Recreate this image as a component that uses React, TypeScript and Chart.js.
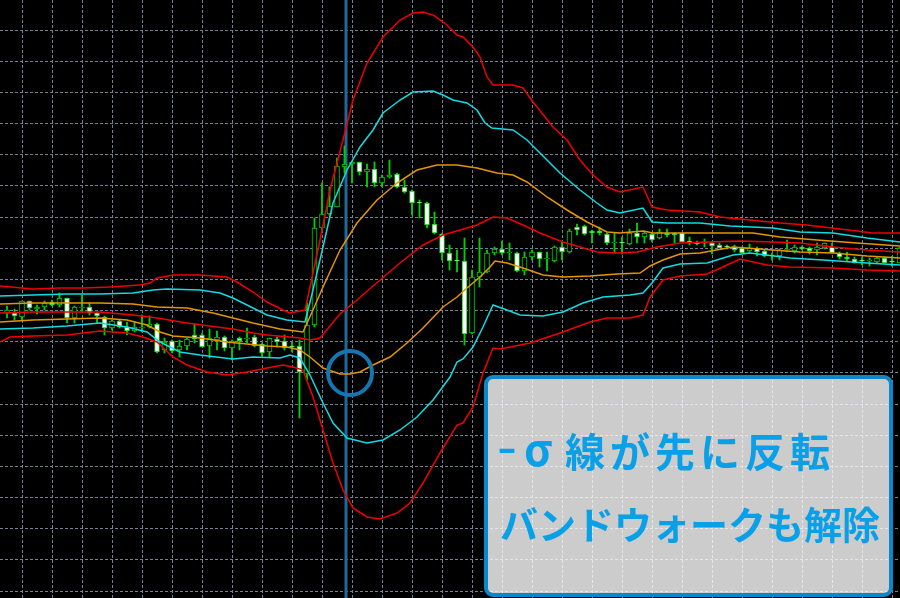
import React, { useEffect, useRef } from "react";
import { Chart, registerables } from "chart.js";

Chart.register(...registerables);

// M15 candles, time axis in minutes from the first bar
const BAR_MINUTES = 15;

const opens = [
  110.285, 110.285, 110.281, 110.297, 110.289, 110.291, 110.296, 110.293, 110.300, 110.280,
  110.290, 110.291, 110.285, 110.281, 110.270, 110.277, 110.271, 110.267, 110.270, 110.271,
  110.274, 110.248, 110.257, 110.248, 110.252, 110.263, 110.263, 110.252, 110.258, 110.261,
  110.250, 110.260, 110.259, 110.261, 110.254, 110.246, 110.259, 110.257, 110.252, 110.252,
  110.224, 110.273, 110.370, 110.384, 110.391, 110.431, 110.434, 110.436, 110.426, 110.429,
  110.415, 110.421, 110.424, 110.411, 110.407, 110.396, 110.395, 110.374, 110.364, 110.345,
  110.338, 110.337, 110.265, 110.321, 110.326, 110.345, 110.349, 110.345, 110.345, 110.327,
  110.341, 110.346, 110.339, 110.337, 110.351, 110.346, 110.371, 110.372, 110.367, 110.367,
  110.364, 110.355, 110.356, 110.354, 110.365, 110.361, 110.364, 110.360, 110.365, 110.365,
  110.365, 110.357, 110.356, 110.356, 110.355, 110.353, 110.352, 110.351, 110.350, 110.347,
  110.350, 110.347, 110.343, 110.342, 110.348, 110.347, 110.351, 110.350, 110.348, 110.350,
  110.351, 110.345, 110.341, 110.339, 110.338, 110.337, 110.336, 110.340, 110.337, 110.335,
];
const highs = [
  110.292, 110.289, 110.297, 110.297, 110.293, 110.297, 110.298, 110.305, 110.300, 110.292,
  110.303, 110.295, 110.286, 110.282, 110.278, 110.278, 110.276, 110.276, 110.283, 110.282,
  110.275, 110.260, 110.258, 110.258, 110.260, 110.274, 110.265, 110.269, 110.267, 110.262,
  110.258, 110.261, 110.270, 110.263, 110.255, 110.260, 110.261, 110.263, 110.256, 110.258,
  110.295, 110.380, 110.415, 110.411, 110.440, 110.452, 110.436, 110.436, 110.434, 110.436,
  110.423, 110.438, 110.425, 110.418, 110.408, 110.398, 110.396, 110.386, 110.365, 110.353,
  110.348, 110.360, 110.328, 110.360, 110.348, 110.351, 110.357, 110.355, 110.346, 110.346,
  110.348, 110.346, 110.346, 110.352, 110.356, 110.369, 110.374, 110.373, 110.368, 110.371,
  110.365, 110.365, 110.361, 110.369, 110.375, 110.367, 110.365, 110.369, 110.369, 110.365,
  110.365, 110.361, 110.357, 110.359, 110.356, 110.355, 110.353, 110.353, 110.351, 110.354,
  110.351, 110.348, 110.345, 110.349, 110.358, 110.353, 110.352, 110.351, 110.355, 110.355,
  110.355, 110.346, 110.346, 110.341, 110.341, 110.340, 110.341, 110.341, 110.342, 110.351,
];
const lows = [
  110.280, 110.278, 110.278, 110.288, 110.284, 110.288, 110.292, 110.291, 110.275, 110.275,
  110.286, 110.283, 110.275, 110.263, 110.268, 110.270, 110.263, 110.266, 110.266, 110.270,
  110.245, 110.245, 110.245, 110.241, 110.248, 110.255, 110.251, 110.240, 110.248, 110.247,
  110.238, 110.248, 110.255, 110.251, 110.242, 110.241, 110.251, 110.248, 110.246, 110.180,
  110.218, 110.271, 110.368, 110.383, 110.391, 110.425, 110.415, 110.423, 110.411, 110.411,
  110.411, 110.420, 110.410, 110.405, 110.383, 110.380, 110.370, 110.364, 110.338, 110.328,
  110.326, 110.253, 110.264, 110.311, 110.325, 110.343, 110.343, 110.338, 110.326, 110.323,
  110.338, 110.331, 110.327, 110.336, 110.338, 110.345, 110.363, 110.363, 110.355, 110.363,
  110.353, 110.345, 110.344, 110.353, 110.355, 110.355, 110.356, 110.359, 110.361, 110.355,
  110.356, 110.353, 110.353, 110.351, 110.344, 110.350, 110.349, 110.346, 110.345, 110.346,
  110.342, 110.341, 110.338, 110.338, 110.346, 110.345, 110.348, 110.344, 110.343, 110.349,
  110.345, 110.339, 110.337, 110.335, 110.333, 110.332, 110.335, 110.335, 110.332, 110.335,
];
const closes = [
  110.288, 110.282, 110.297, 110.290, 110.291, 110.295, 110.293, 110.300, 110.280, 110.291,
  110.291, 110.285, 110.282, 110.270, 110.277, 110.271, 110.267, 110.271, 110.271, 110.274,
  110.246, 110.256, 110.247, 110.252, 110.259, 110.259, 110.251, 110.260, 110.261, 110.250,
  110.257, 110.257, 110.260, 110.252, 110.245, 110.260, 110.256, 110.250, 110.251, 110.226,
  110.273, 110.370, 110.384, 110.392, 110.432, 110.434, 110.436, 110.426, 110.429, 110.415,
  110.421, 110.423, 110.411, 110.406, 110.395, 110.395, 110.373, 110.365, 110.345, 110.337,
  110.337, 110.264, 110.321, 110.326, 110.345, 110.349, 110.345, 110.346, 110.327, 110.341,
  110.346, 110.339, 110.340, 110.351, 110.346, 110.367, 110.368, 110.364, 110.365, 110.365,
  110.355, 110.356, 110.355, 110.365, 110.361, 110.365, 110.358, 110.366, 110.363, 110.363,
  110.356, 110.356, 110.354, 110.355, 110.352, 110.350, 110.351, 110.348, 110.345, 110.350,
  110.346, 110.342, 110.342, 110.348, 110.349, 110.351, 110.349, 110.347, 110.351, 110.355,
  110.345, 110.341, 110.339, 110.335, 110.337, 110.338, 110.340, 110.335, 110.336, 110.350,
];

// Bollinger bands (±1σ/±2σ/±3σ and middle line) : [minutes, price]
const upper3 = [[-14,110.312],[52,110.309],[106,110.310],[152,110.310],[206,110.311],[266,110.313],[286,110.315],[300,110.320],[332,110.323],[386,110.323],[440,110.321],[460,110.316],[492,110.306],[520,110.296],[552,110.288],[566,110.285],[586,110.287],[596,110.288],[606,110.311],[626,110.358],[646,110.408],[672,110.458],[692,110.498],[720,110.535],[752,110.561],[786,110.578],[812,110.585],[832,110.586],[852,110.583],[880,110.573],[900,110.563],[912,110.561],[932,110.551],[946,110.541],[960,110.521],[972,110.513],[1012,110.513],[1032,110.510],[1052,110.496],[1092,110.471],[1120,110.458],[1146,110.438],[1172,110.423],[1200,110.411],[1226,110.406],[1272,110.411],[1290,110.391],[1320,110.388],[1386,110.386],[1426,110.381],[1486,110.378],[1546,110.375],[1600,110.373],[1666,110.369],[1732,110.365],[1786,110.365]];
const upper2 = [[-14,110.302],[52,110.303],[120,110.304],[186,110.304],[252,110.305],[292,110.308],[320,110.309],[386,110.308],[426,110.305],[452,110.300],[492,110.290],[520,110.283],[560,110.278],[596,110.276],[612,110.308],[632,110.351],[652,110.395],[680,110.428],[706,110.451],[732,110.468],[752,110.485],[786,110.498],[812,110.506],[852,110.507],[872,110.503],[892,110.498],[920,110.495],[940,110.488],[956,110.475],[970,110.470],[1012,110.468],[1040,110.458],[1080,110.438],[1106,110.425],[1146,110.408],[1180,110.395],[1200,110.388],[1226,110.385],[1272,110.390],[1290,110.376],[1320,110.375],[1386,110.375],[1446,110.372],[1532,110.370],[1586,110.366],[1652,110.365],[1720,110.360],[1786,110.356]];
const upper1 = [[-14,110.294],[52,110.295],[120,110.295],[186,110.295],[252,110.294],[300,110.291],[360,110.290],[412,110.285],[452,110.280],[492,110.275],[546,110.269],[592,110.266],[612,110.288],[632,110.311],[666,110.348],[700,110.375],[740,110.398],[780,110.415],[820,110.428],[860,110.433],[900,110.433],[940,110.430],[980,110.425],[1012,110.423],[1040,110.416],[1080,110.401],[1120,110.388],[1160,110.376],[1200,110.366],[1226,110.365],[1272,110.367],[1292,110.365],[1346,110.365],[1466,110.365],[1492,110.365],[1546,110.361],[1620,110.358],[1700,110.355],[1786,110.352]];
const middle = [[-14,110.285],[52,110.286],[120,110.286],[186,110.286],[252,110.283],[300,110.280],[360,110.275],[420,110.271],[452,110.269],[492,110.265],[520,110.263],[566,110.261],[586,110.260],[606,110.258],[626,110.260],[646,110.272],[666,110.284],[700,110.298],[746,110.318],[786,110.335],[832,110.353],[872,110.363],[906,110.368],[940,110.373],[972,110.381],[1000,110.380],[1032,110.373],[1066,110.365],[1112,110.356],[1146,110.351],[1180,110.346],[1220,110.345],[1260,110.346],[1300,110.351],[1346,110.355],[1466,110.357],[1532,110.356],[1586,110.355],[1652,110.351],[1720,110.348],[1786,110.346]];
const lower1 = [[-14,110.276],[52,110.278],[120,110.279],[186,110.280],[240,110.278],[280,110.273],[306,110.266],[332,110.262],[386,110.260],[440,110.256],[480,110.254],[520,110.252],[560,110.251],[586,110.248],[606,110.241],[632,110.230],[666,110.224],[686,110.224],[706,110.226],[732,110.233],[766,110.241],[800,110.255],[832,110.270],[872,110.291],[900,110.301],[920,110.310],[946,110.321],[966,110.331],[976,110.337],[1000,110.335],[1032,110.330],[1072,110.323],[1112,110.321],[1166,110.322],[1220,110.324],[1266,110.325],[1286,110.332],[1312,110.338],[1346,110.344],[1386,110.345],[1452,110.351],[1532,110.348],[1586,110.346],[1652,110.345],[1720,110.342],[1786,110.340]];
const lower2 = [[-14,110.269],[52,110.270],[120,110.272],[186,110.275],[240,110.271],[280,110.266],[306,110.256],[346,110.246],[386,110.243],[452,110.239],[492,110.241],[546,110.240],[566,110.243],[586,110.240],[606,110.223],[632,110.195],[652,110.175],[680,110.160],[720,110.155],[752,110.158],[786,110.168],[820,110.181],[852,110.198],[886,110.221],[900,110.236],[912,110.239],[932,110.251],[952,110.271],[972,110.293],[1000,110.288],[1026,110.283],[1072,110.282],[1112,110.286],[1152,110.295],[1192,110.301],[1246,110.303],[1272,110.305],[1290,110.315],[1312,110.330],[1346,110.334],[1400,110.335],[1452,110.343],[1486,110.345],[1566,110.340],[1632,110.338],[1720,110.335],[1786,110.333]];
const lower3 = [[-14,110.256],[6,110.261],[52,110.262],[120,110.263],[152,110.265],[186,110.267],[240,110.265],[272,110.261],[300,110.256],[332,110.241],[360,110.233],[400,110.226],[440,110.223],[480,110.226],[520,110.230],[552,110.233],[572,110.231],[592,110.228],[612,110.201],[632,110.168],[652,110.135],[672,110.108],[692,110.090],[720,110.081],[746,110.079],[780,110.085],[806,110.095],[832,110.115],[866,110.145],[900,110.173],[912,110.175],[932,110.191],[952,110.225],[972,110.250],[986,110.249],[1046,110.255],[1112,110.266],[1166,110.276],[1200,110.280],[1246,110.280],[1272,110.283],[1286,110.301],[1312,110.318],[1346,110.322],[1400,110.324],[1440,110.333],[1466,110.339],[1520,110.333],[1566,110.331],[1652,110.330],[1720,110.328],[1786,110.327]];

// Axis ranges and grid ticks
const X_MIN = -14;
const X_MAX = 1786;
const Y_MIN = 110.0;
const Y_MAX = 110.598;
const xGridTicks = Array.from({ length: 30 }, (_, k) => 30 + 60 * k);
const yGridTicks = Array.from({ length: 19 }, (_, k) => 110.568 - 0.03117 * k);

// annotations
const markerTime = 678;
const circleTime = 686;
const circlePrice = 110.225;
const noteLine1a = "-";
const noteLine1s = "σ";
const noteLine1b = "線が先に反転";
const noteLine2 = "バンドウォークも解除";

const GREEN = "#00d000";
const RED = "#ee0000";
const CYAN = "#10dce4";
const ORANGE = "#e69500";
const GRID = "#728196";

function roundRectPath(ctx: CanvasRenderingContext2D, x: number, y: number, w: number, h: number, r: number) {
  ctx.beginPath();
  ctx.moveTo(x + r, y);
  ctx.lineTo(x + w - r, y);
  ctx.arcTo(x + w, y, x + w, y + r, r);
  ctx.lineTo(x + w, y + h - r);
  ctx.arcTo(x + w, y + h, x + w - r, y + h, r);
  ctx.lineTo(x + r, y + h);
  ctx.arcTo(x, y + h, x, y + h - r, r);
  ctx.lineTo(x, y + r);
  ctx.arcTo(x, y, x + r, y, r);
  ctx.closePath();
}

function drawSpaced(ctx: CanvasRenderingContext2D, text: string, x: number, y: number, spacing: number) {
  let cx = x;
  for (const ch of Array.from(text)) {
    ctx.fillText(ch, cx, y);
    cx += ctx.measureText(ch).width + spacing;
  }
}

const overlayPlugin = {
  id: "overlay",
  beforeDatasetsDraw(chart: any) {
    const { ctx, chartArea, scales } = chart;
    const x = scales.x.getPixelForValue(markerTime);
    ctx.save();
    ctx.strokeStyle = "#22689a";
    ctx.lineWidth = 3;
    ctx.beginPath();
    ctx.moveTo(x, chartArea.top);
    ctx.lineTo(x, chartArea.bottom);
    ctx.stroke();
    ctx.restore();
  },
  afterDatasetsDraw(chart: any) {
    const { ctx, scales } = chart;
    const cx = scales.x.getPixelForValue(circleTime);
    const cy = scales.y.getPixelForValue(circlePrice);
    ctx.save();
    ctx.strokeStyle = "#1676b2";
    ctx.lineWidth = 4;
    ctx.beginPath();
    ctx.arc(cx, cy, 22, 0, Math.PI * 2);
    ctx.stroke();
    ctx.restore();
  },
  afterDraw(chart: any) {
    const { ctx } = chart;
    ctx.save();
    roundRectPath(ctx, 486, 377, 405, 218, 7);
    ctx.fillStyle = "rgba(255,255,255,0.8)";
    ctx.fill();
    ctx.strokeStyle = "#0b88cc";
    ctx.lineWidth = 4;
    ctx.stroke();
    ctx.fillStyle = "#0aa0e8";
    ctx.textBaseline = "middle";
    ctx.textAlign = "left";
    ctx.font = 'bold 40px "Noto Sans CJK JP", sans-serif';
    ctx.save();
    ctx.translate(497, 447);
    ctx.scale(1.35, 1);
    ctx.fillText(noteLine1a, 0, 0);
    ctx.restore();
    ctx.font = 'bold 44px "Noto Sans CJK JP", sans-serif';
    ctx.fillText(noteLine1s, 524, 449);
    ctx.font = 'bold 40px "Noto Sans CJK JP", sans-serif';
    drawSpaced(ctx, noteLine1b, 565, 452, 5);
    ctx.font = 'bold 38px "Noto Sans CJK JP", sans-serif';
    drawSpaced(ctx, noteLine2, 500, 525, 0);
    ctx.restore();
  },
};

export default function App() {
  const canvasRef = useRef<HTMLCanvasElement | null>(null);

  useEffect(() => {
    const canvas = canvasRef.current;
    if (!canvas) return;

    const wickData = opens.map((_, i) => ({ x: i * BAR_MINUTES, y: [lows[i], highs[i]] }));
    const bodyData = opens.map((o, i) => ({ x: i * BAR_MINUTES, y: [o, closes[i]] }));
    const bodyFill = opens.map((o, i) => (closes[i] > o ? "#000000" : "#ffffff"));

    const line = (pts: number[][], color: string) => ({
      type: "line" as const,
      data: pts.map(([x, y]) => ({ x, y })),
      borderColor: color,
      borderWidth: 1.5,
      pointRadius: 0,
      tension: 0,
      fill: false,
      order: 0,
    });

    const chart = new Chart(canvas, {
      type: "bar",
      data: {
        datasets: [
          line(upper3, RED),
          line(upper2, CYAN),
          line(upper1, ORANGE),
          line(middle, RED),
          line(lower1, ORANGE),
          line(lower2, CYAN),
          line(lower3, RED),
          {
            type: "bar",
            data: bodyData as any,
            backgroundColor: bodyFill,
            borderColor: GREEN,
            borderWidth: 1,
            borderSkipped: false,
            barThickness: 5,
            grouped: false,
            order: 1,
          },
          {
            type: "bar",
            data: wickData as any,
            backgroundColor: GREEN,
            borderWidth: 0,
            barThickness: 1.2,
            grouped: false,
            order: 2,
          },
        ] as any,
      },
      options: {
        animation: false,
        responsive: false,
        maintainAspectRatio: false,
        devicePixelRatio: 1,
        events: [],
        layout: { padding: 0 },
        plugins: { legend: { display: false }, tooltip: { enabled: false } },
        scales: {
          x: {
            type: "linear",
            min: X_MIN,
            max: X_MAX,
            offset: false,
            grid: { color: GRID, lineWidth: 1, drawTicks: false, offset: false },
            border: { display: false, dash: [3, 2] },
            ticks: { display: false },
            afterBuildTicks: (s: any) => {
              s.ticks = xGridTicks.map((v) => ({ value: v }));
            },
            afterFit: (s: any) => {
              s.height = 0;
            },
          },
          y: {
            type: "linear",
            min: Y_MIN,
            max: Y_MAX,
            grid: { color: GRID, lineWidth: 1, drawTicks: false },
            border: { display: false, dash: [3, 2] },
            ticks: { display: false },
            afterBuildTicks: (s: any) => {
              s.ticks = yGridTicks.map((v) => ({ value: v }));
            },
            afterFit: (s: any) => {
              s.width = 0;
            },
          },
        } as any,
      },
      plugins: [overlayPlugin],
    });

    return () => chart.destroy();
  }, []);

  return (
    <div style={{ position: "fixed", left: 0, top: 0, width: 900, height: 598, background: "#000" }}>
      <canvas ref={canvasRef} width={900} height={598} style={{ display: "block", width: 900, height: 598 }} />
    </div>
  );
}
